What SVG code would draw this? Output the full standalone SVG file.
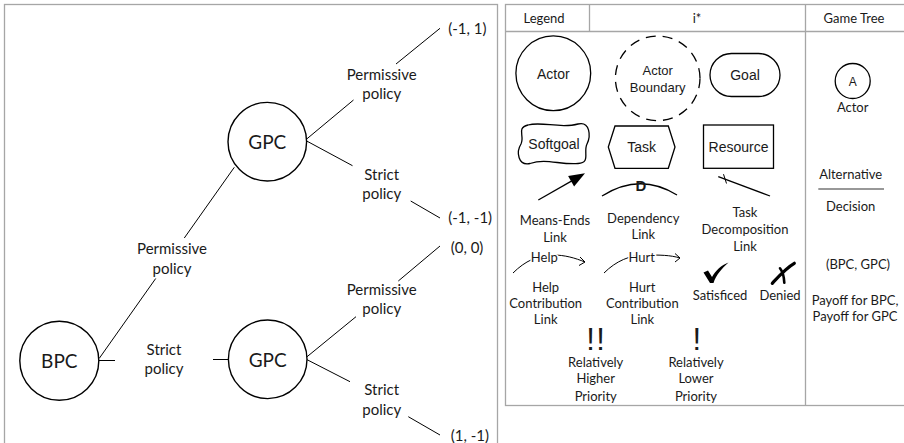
<svg xmlns="http://www.w3.org/2000/svg" width="904" height="443" viewBox="0 0 904 443">
<style>
text{font-family:Lato,"Noto Sans",sans-serif;fill:#1a1a1a;text-anchor:middle;dominant-baseline:central}
.L{font-size:15px}
.N{font-size:19px}
.S{font-size:13px}
.A{font-family:"Liberation Sans",Arial,sans-serif;font-size:14px}
.st{text-anchor:start}
.e{stroke:#000;stroke-width:1;fill:none}
.frame{fill:none;stroke:#a6a6a6;stroke-width:1.3}
.node{fill:#fff;stroke:#000;stroke-width:1.4}
.sh{fill:#fff;stroke:#000;stroke-width:1.3}
.halo{paint-order:stroke;stroke:#fff;stroke-width:3px}
</style>
<rect class="frame" x="4.5" y="4.5" width="493" height="460"/>
<g id="connectors">
  <line class="e" x1="99.3" y1="358.3" x2="155.7" y2="278.5"/>
  <line class="e" x1="184.3" y1="238" x2="234.3" y2="167.3"/>
  <text class="L" x="172" y="248.3">Permissive</text>
  <text class="L" x="172" y="268.3">policy</text>
  <line class="e" x1="99" y1="360.5" x2="115" y2="360.5"/>
  <line class="e" x1="213" y1="359.5" x2="228.5" y2="359.5"/>
  <text class="L" x="164" y="349">Strict</text>
  <text class="L" x="164" y="368.3">policy</text>
  <line class="e" x1="306.7" y1="139" x2="353.5" y2="100"/>
  <line class="e" x1="396" y1="64" x2="440" y2="28.3"/>
  <text class="L" x="381.7" y="74">Permissive</text>
  <text class="L" x="381.7" y="93.3">policy</text>
  <line class="e" x1="306.7" y1="141" x2="352.5" y2="165.7"/>
  <line class="e" x1="410.7" y1="201" x2="440" y2="218"/>
  <text class="L" x="381.7" y="174">Strict</text>
  <text class="L" x="381.7" y="193.3">policy</text>
  <line class="e" x1="306.7" y1="357" x2="356" y2="316.7"/>
  <line class="e" x1="398.3" y1="281" x2="440" y2="246"/>
  <text class="L" x="381.7" y="289.3">Permissive</text>
  <text class="L" x="381.7" y="308.3">policy</text>
  <line class="e" x1="306.7" y1="359.5" x2="350" y2="381.7"/>
  <line class="e" x1="408.3" y1="416.7" x2="440" y2="435"/>
  <text class="L" x="381.7" y="389.3">Strict</text>
  <text class="L" x="381.7" y="409.3">policy</text>
</g>
<g id="bpc"><circle class="node" cx="59.3" cy="360.7" r="39.5"/><text class="N" x="59.3" y="360.7">BPC</text></g>
<g id="gpc-top"><circle class="node" cx="267.3" cy="141.7" r="39.3"/><text class="N" x="267.3" y="141.7">GPC</text></g>
<g id="gpc-bottom"><circle class="node" cx="267.7" cy="359.3" r="39.3"/><text class="N" x="267.7" y="359.3">GPC</text></g>
<g id="payoff1"><text class="L st" x="448.3" y="28">(-1, 1)</text></g>
<g id="payoff2"><text class="L st" x="448.3" y="217">(-1, -1)</text></g>
<g id="payoff3"><text class="L st" x="450.7" y="246.5">(0, 0)</text></g>
<g id="payoff4"><text class="L st" x="450.7" y="435">(1, -1)</text></g>

<g id="legend">
  <rect class="frame" x="505.5" y="4.5" width="420" height="401"/>
  <line class="frame" x1="505.5" y1="31.5" x2="904" y2="31.5"/>
  <line class="frame" x1="589.5" y1="4.5" x2="589.5" y2="31.5"/>
  <line class="frame" x1="805.5" y1="4.5" x2="805.5" y2="405.5"/>
  <text class="S" x="544" y="17.5">Legend</text>
  <text class="S" x="697" y="17.5">i*</text>
  <text class="S" x="854" y="17.5">Game Tree</text>

  <g id="i-actor"><circle class="sh" cx="553.3" cy="73.3" r="37.4"/><text class="A" x="553.3" y="74">Actor</text></g>
  <g id="i-boundary"><circle class="sh" cx="657.7" cy="78.3" r="42.3" stroke-dasharray="10,7"/><text class="A" x="657.7" y="70" style="font-size:13px">Actor</text><text class="A" x="657.7" y="87" style="font-size:13px">Boundary</text></g>
  <g id="i-goal"><rect class="sh" x="710" y="53.5" width="70" height="43" rx="21.5"/><text class="A" x="745" y="75">Goal</text></g>
  <g id="i-softgoal"><path class="sh" d="M528,125 C542,121 560,129 578,124 C590,121 591,136 587,144 C583,152 591,163 578,163.5 C560,165 546,158 530,163.5 C518,166 516,152 521,144 C525,136 516,128 528,125 Z"/><text class="A" x="554" y="143.5">Softgoal</text></g>
  <g id="i-task"><polygon class="sh" points="615,126 668.3,126 675,147 668.3,168.3 615,168.3 608.3,147"/><text class="A" x="641.7" y="146.5">Task</text></g>
  <g id="i-resource"><rect class="sh" x="703.5" y="125" width="70" height="43.3"/><text class="A" x="738.5" y="146.5">Resource</text></g>

  <g id="i-meansends">
    <line class="e" x1="538.3" y1="200" x2="574" y2="179.6" style="stroke-width:1.3"/>
    <polygon points="585,173.3 568.1,176 574.1,186.4" fill="#000"/>
    <text class="S" x="555" y="220">Means-Ends</text><text class="S" x="555" y="236.7">Link</text>
  </g>
  <g id="i-dependency">
    <path class="e" d="M602,196 Q640,172 677,195" style="stroke-width:1.3"/>
    <text class="A" x="641" y="185" style="font-size:15px;font-weight:bold">D</text>
    <text class="S" x="643.3" y="218.3">Dependency</text><text class="S" x="643.3" y="234.3">Link</text>
  </g>
  <g id="i-decomposition">
    <line class="e" x1="718.3" y1="176.7" x2="770" y2="196" style="stroke-width:1.3"/>
    <line class="e" x1="723.5" y1="174.2" x2="726.5" y2="183.5"/>
    <text class="S" x="745" y="211.7">Task</text><text class="S" x="745" y="229">Decomposition</text><text class="S" x="745" y="245.7">Link</text>
  </g>
  <g id="i-help">
    <path class="e" d="M513,273 C525,261 538,255 553,255 C565,255 575,258 585,262"/>
    <path class="e" d="M580,257 L585,262 L579,265.5"/>
    <text class="S halo" x="544.3" y="256.7">Help</text>
    <text class="S" x="545.7" y="286.7">Help</text><text class="S" x="545.7" y="303">Contribution</text><text class="S" x="545.7" y="319.3">Link</text>
  </g>
  <g id="i-hurt">
    <path class="e" d="M604,273 C616,261 630,255 645,255 C660,255 670,255 680,258"/>
    <path class="e" d="M675,253.5 L680,258 L675,262"/>
    <text class="S halo" x="641.7" y="256.7">Hurt</text>
    <text class="S" x="642.3" y="286.7">Hurt</text><text class="S" x="642.3" y="303">Contribution</text><text class="S" x="642.3" y="319.3">Link</text>
  </g>
  <g id="i-satisficed">
    <path d="M703.5,272.5 L708,270.5 L712,277 C716,270 721,265.5 728.5,262.5 C722,268.5 716,275 713.5,283 L710,283 Z" fill="#000"/>
    <text class="S" x="720" y="295">Satisficed</text>
  </g>
  <g id="i-denied">
    <path d="M772.3,283.3 C779,276 786,268 794.3,263.3" fill="none" stroke="#000" stroke-width="3.2" stroke-linecap="round"/>
    <path d="M780,268.3 C783,272 784,277 784.3,282.7" fill="none" stroke="#000" stroke-width="2.6" stroke-linecap="round"/>
    <text class="S" x="780" y="295">Denied</text>
  </g>
  <g id="i-higher">
    <text class="A" x="596.3" y="339" style="font-size:31px;letter-spacing:1.5px">!!</text>
    <text class="S" x="595.7" y="361.7">Relatively</text><text class="S" x="595.7" y="378.3">Higher</text><text class="S" x="595.7" y="396">Priority</text>
  </g>
  <g id="i-lower">
    <text class="A" x="696.7" y="339" style="font-size:31px">!</text>
    <text class="S" x="696" y="361.7">Relatively</text><text class="S" x="696" y="378.3">Lower</text><text class="S" x="696" y="396">Priority</text>
  </g>

  <g id="g-actor"><circle class="sh" cx="852.7" cy="81" r="17.5"/><text class="A" x="852.7" y="81.5" style="font-size:12px">A</text><text class="S" x="852.7" y="107">Actor</text></g>
  <g id="g-alternative"><text class="S" x="850.7" y="174">Alternative</text><line x1="818.3" y1="189" x2="884" y2="189" stroke="#333" stroke-width="1.2"/><text class="S" x="850.7" y="206">Decision</text></g>
  <g id="g-payoff"><text class="S" x="858" y="264">(BPC, GPC)</text><text class="S" x="855" y="300">Payoff for BPC,</text><text class="S" x="855" y="316">Payoff for GPC</text></g>
</g>
</svg>
